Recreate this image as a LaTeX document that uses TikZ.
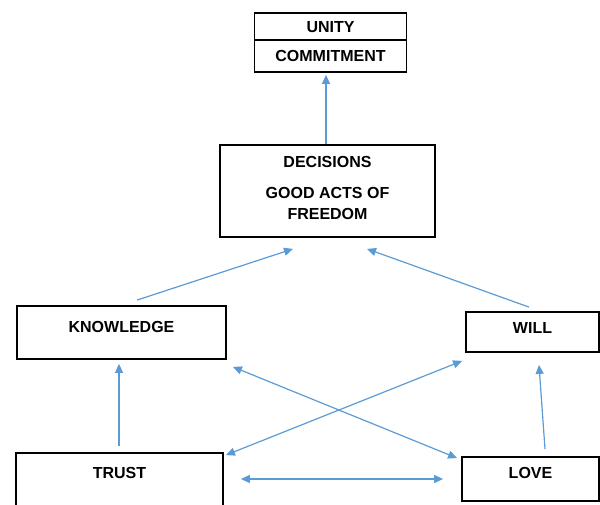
\documentclass[tikz,border=0pt]{standalone}
\usepackage{fontspec}
\setmainfont{Liberation Sans}
\usetikzlibrary{arrows.meta,calc}
\definecolor{arrblue}{HTML}{5B9BD5}
\begin{document}
\begin{tikzpicture}[x=1pt,y=-1pt,
  box/.style={draw=black,line width=1.8pt,inner sep=0pt,fill=white},
  lbl/.style={font=\fontsize{16}{19}\selectfont\bfseries,inner sep=0pt},
  tip/.tip={Triangle[length=9pt,width=8pt]},
  arr/.style={draw=arrblue,line width=1.2pt,-tip},
  darr/.style={draw=arrblue,line width=1.2pt,tip-tip}]
\useasboundingbox (0,0) rectangle (600,505);
\clip (0,0) rectangle (600,505);
% nodes
\node[box,minimum width=152pt,minimum height=27pt,label={[lbl,yshift=-1pt]center:UNITY}] (unity) at (330.5,26.5) {};
\node[box,minimum width=152pt,minimum height=32pt,label={[lbl,yshift=0pt]center:COMMITMENT}] (commit) at (330.5,56) {};
\node[box,minimum width=215pt,minimum height=92pt,
      label={[lbl,align=center,font=\fontsize{16}{21}\selectfont\bfseries,yshift=3pt]center:DECISIONS\\[10pt]GOOD ACTS OF\\FREEDOM}] (dec) at (327.5,191) {};
\node[box,minimum width=209pt,minimum height=53pt,label={[lbl,yshift=6pt]center:KNOWLEDGE}] (know) at (121.5,332.5) {};
\node[box,minimum width=133pt,minimum height=40pt,label={[lbl,yshift=4pt]center:WILL}] (will) at (532.5,332) {};
\node[box,minimum width=207pt,minimum height=53pt,label={[lbl,yshift=6.5pt]center:TRUST}] (trust) at (119.5,479.5) {};
\node[box,minimum width=137pt,minimum height=44pt,label={[lbl,yshift=6pt]center:LOVE}] (love) at (530.5,479) {};
% connectors
\draw[arr] ($(dec.north)+(-1.5,0)$) -- ($(commit.south)+(-4.5,2)$);
\draw[arr] ($(know.north)+(15.5,-5)$) -- ($(dec.south)+(-34.5,11)$);
\draw[arr] ($(will.north)+(-3.5,-4)$) -- ($(dec.south)+(39.5,11)$);
\draw[arr] ($(trust.north)+(-0.5,-6)$) -- ($(know.south)+(-2.5,4)$);
\draw[arr] ($(love.north)+(14.5,-7)$) -- ($(will.south)+(6.5,12)$);
\draw[darr] ($(trust.north east)+(2,3)$) -- ($(will.south west)+(-3,8)$);
\draw[darr] ($(know.south east)+(6,7)$) -- ($(love.north west)+(-4,2)$);
\draw[darr] ($(trust.east)+(17,-0.5)$) -- ($(love.west)+(-18,0)$);
\end{tikzpicture}
\end{document}
